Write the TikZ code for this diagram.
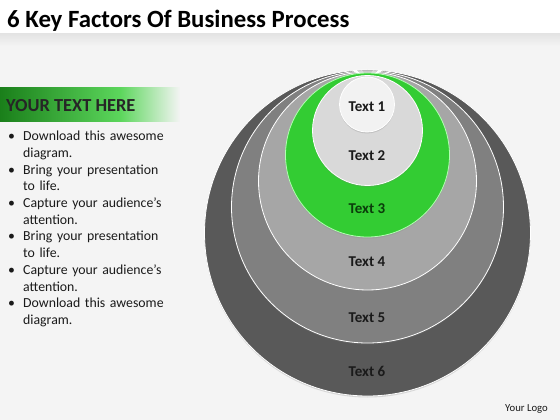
\documentclass[tikz,border=0pt]{standalone}
\usepackage{fontspec}
\setmainfont{Carlito}
\usetikzlibrary{shadows}
\definecolor{bgA}{HTML}{F4F4F4}
\definecolor{bgB}{HTML}{E4E4E4}
\definecolor{gA}{HTML}{33CC33}
\definecolor{r6}{HTML}{595959}
\definecolor{r5}{HTML}{808080}
\definecolor{r4}{HTML}{A6A6A6}
\definecolor{r2}{HTML}{D9D9D9}
\definecolor{r1}{HTML}{F2F2F2}
\definecolor{txt}{HTML}{1A1A1A}
\definecolor{t3}{HTML}{0B3D0B}
\begin{document}
\begin{tikzpicture}[x=1pt,y=-1pt,
  ring/.style={circle,draw=white,line width=0.8pt,inner sep=0pt,
    drop shadow={shadow xshift=0pt,shadow yshift=-1.5pt,opacity=0.25}},
  lbl/.style={font=\bfseries\fontsize{15}{17}\selectfont,text=txt},
  bullettext/.style={anchor=north west,align=left,text=txt,
    font=\fontsize{13.8}{16.7}\selectfont,text width=175pt}]
\useasboundingbox (0,0) rectangle (560,420);
% background
\fill[white] (0,0) rectangle (560,420);
\fill[bgA] (0,34) rectangle (560,420);
\shade[top color=bgB,bottom color=bgA] (0,34) rectangle (560,46);
% title
\node[anchor=base west,inner sep=0pt,font=\bfseries\fontsize{24.8}{28}\selectfont,text=black] (title) at (7,28) {6 Key Factors Of Business Process};
% header bar
\shade[left color=gA!85!green!60!black,right color=gA!80] (0,88) rectangle (120,121);
\shade[left color=gA!80,right color=bgA] (120,88) rectangle (180,121);
\node[anchor=base west,inner sep=0pt,font=\bfseries\fontsize{18.4}{21}\selectfont,text=black!85] (head) at (6,111) {YOUR TEXT HERE};
% bullets
\node[bullettext,inner sep=0pt] (list) at (8,131) {%
\makebox[15pt][l]{•}Download this awesome\\
\hspace*{15pt}diagram.\\
\makebox[15pt][l]{•}Bring your presentation\\
\hspace*{15pt}to life.\\
\makebox[15pt][l]{•}Capture your audience’s\\
\hspace*{15pt}attention.\\
\makebox[15pt][l]{•}Bring your presentation\\
\hspace*{15pt}to life.\\
\makebox[15pt][l]{•}Capture your audience’s\\
\hspace*{15pt}attention.\\
\makebox[15pt][l]{•}Download this awesome\\
\hspace*{15pt}diagram.};
% circles
\node[ring,fill=r6,minimum size=326pt] (c6) at (367.5,233) {};
\node[ring,fill=r5,minimum size=272pt] (c5) at (367.5,207) {};
\node[ring,fill=r4,minimum size=218pt] (c4) at (367.5,181) {};
\node[ring,fill=gA,draw=green!30!white,minimum size=164pt] (c3) at (367.5,155) {};
\node[ring,fill=r2,minimum size=110pt] (c2) at (367.5,130.5) {};
\node[ring,fill=r1,minimum size=55pt] (c1) at (367,104.5) {};
% labels
\node[lbl] (l1) at (367,106.5) {Text 1};
\node[lbl] (l2) at (367,156) {Text 2};
\node[lbl,text=t3] (l3) at (367,209) {Text 3};
\node[lbl] (l4) at (367,262) {Text 4};
\node[lbl] (l5) at (367,318) {Text 5};
\node[lbl] (l6) at (367,371) {Text 6};
% logo
\node[anchor=base east,inner sep=0pt,font=\fontsize{10.7}{12}\selectfont,text=txt] (logo) at (548,411) {Your Logo};
\end{tikzpicture}
\end{document}
